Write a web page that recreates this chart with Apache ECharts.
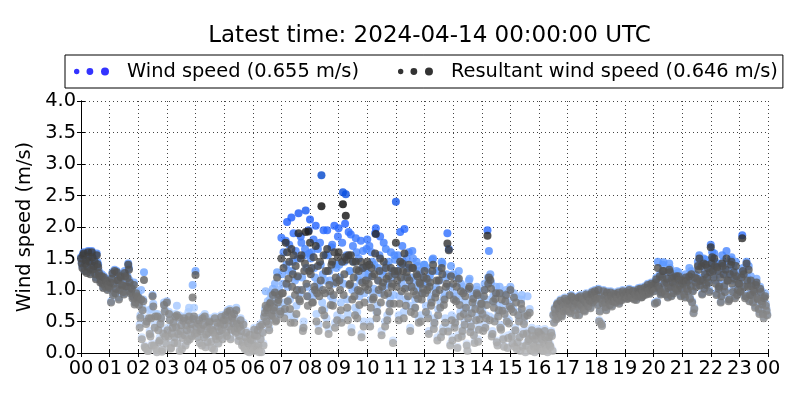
<!DOCTYPE html>
<html>
<head>
<meta charset="utf-8">
<script src="https://cdn.jsdelivr.net/npm/echarts@6/dist/echarts.min.js"></script>
<style>
  html, body { margin: 0; padding: 0; background: #fff; }
  #chart { width: 800px; height: 400px; }
</style>
</head>
<body>
<div id="chart"></div>
<script>
// two interleaved passes, each one sample every 3 minutes (20 per hour), 00:00 -> 23:59 UTC
var sampleStep = 0.05

var hourLabels = ['00', '01', '02', '03', '04', '05', '06', '07', '08', '09', '10', '11',
  '12', '13', '14', '15', '16', '17', '18', '19', '20', '21', '22', '23', '00']

// 风速 (m/s), pass A: hh:00, hh:03, ...
var windSpeed = [
  1.52, 1.38, 1.60, 1.45, 1.30, 1.62, 1.48, 1.35, 1.55, 1.42, 1.28, 1.58, 1.40, 1.25, 1.18, 1.12, 1.22, 1.08, 1.15, 1.10, // 00
  1.05, 0.82, 1.28, 1.12, 0.98, 1.30, 1.18, 1.02, 1.22, 1.10, 0.95, 1.25, 1.08, 1.42, 1.15, 1.00, 0.90, 1.12, 0.85, 0.95, // 01
  0.92, 0.45, 1.00, 0.72, 1.28, 0.10, 0.55, 0.05, 0.35, 0.70, 0.92, 0.15, 0.62, 0.02, 0.40, 0.25, 0.58, 0.08, 0.80, 0.30, // 02
  0.82, 0.30, 0.55, 0.12, 0.45, 0.20, 0.62, 0.75, 0.35, 0.05, 0.48, 0.28, 0.58, 0.15, 0.40, 0.65, 0.25, 0.50, 1.08, 0.72, // 03
  1.30, 0.35, 0.50, 0.20, 0.42, 0.58, 0.28, 0.12, 0.45, 0.35, 0.55, 0.22, 0.40, 0.08, 0.30, 0.52, 0.18, 0.38, 0.60, 0.25, // 04
  0.48, 0.62, 0.30, 0.55, 0.70, 0.40, 0.58, 0.65, 0.35, 0.50, 0.22, 0.45, 0.38, 0.20, 0.12, 0.28, 0.05, 0.18, 0.32, 0.10, // 05
  0.22, 0.40, 0.08, 0.30, 0.15, 0.45, 0.02, 0.35, 0.60, 0.98, 0.72, 0.50, 0.85, 0.62, 1.02, 0.78, 0.55, 1.28, 0.90, 0.68, // 06
  1.83, 1.10, 0.65, 1.78, 2.08, 1.30, 0.85, 2.15, 1.45, 0.55, 1.62, 1.20, 2.22, 0.95, 1.75, 0.40, 1.55, 2.26, 1.05, 1.95, // 07
  2.12, 1.60, 0.90, 1.35, 2.02, 1.10, 0.45, 1.75, 2.82, 1.25, 0.70, 1.55, 1.95, 0.38, 1.15, 1.68, 0.85, 2.02, 1.40, 0.60, // 08
  1.98, 1.20, 0.55, 2.55, 1.45, 2.52, 0.85, 1.92, 1.30, 0.40, 1.70, 1.05, 1.82, 0.65, 1.50, 1.15, 0.30, 1.62, 0.95, 1.35, // 09
  1.80, 1.25, 0.50, 1.60, 0.95, 1.40, 1.98, 0.75, 1.15, 1.85, 0.35, 1.30, 1.05, 1.65, 0.60, 1.45, 0.88, 1.20, 0.20, 1.55, // 10
  2.40, 1.30, 0.60, 1.92, 1.10, 1.45, 1.97, 0.85, 1.35, 1.60, 0.40, 1.20, 1.50, 0.72, 1.05, 1.38, 0.55, 1.25, 0.95, 1.15, // 11
  1.40, 0.75, 1.10, 0.35, 1.25, 0.90, 1.50, 0.55, 1.05, 0.25, 1.30, 0.80, 1.45, 0.40, 0.95, 1.20, 1.90, 1.65, 0.15, 0.60, // 12
  1.25, 0.45, 0.90, 0.10, 1.30, 0.65, 0.30, 1.05, 0.50, 0.80, 0.05, 1.15, 0.38, 0.70, 0.95, 0.20, 0.58, 1.00, 0.42, 0.75, // 13
  0.85, 0.40, 1.10, 0.60, 1.95, 1.62, 1.25, 0.30, 0.90, 0.55, 1.05, 0.15, 0.75, 0.45, 0.95, 0.25, 0.68, 1.00, 0.10, 0.52, // 14
  1.05, 0.30, 0.70, 0.12, 0.88, 0.20, 0.55, 0.05, 0.92, 0.35, 0.62, 0.15, 0.90, 0.25, 0.08, 0.40, 0.18, 0.02, 0.30, 0.10, // 15
  0.35, 0.10, 0.25, 0.05, 0.38, 0.15, 0.02, 0.28, 0.12, 0.30, 0.62, 0.72, 0.55, 0.80, 0.68, 0.85, 0.60, 0.75, 0.88, 0.70, // 16
  0.72, 0.85, 0.65, 0.90, 0.78, 0.70, 0.88, 0.82, 0.62, 0.92, 0.75, 0.86, 0.68, 0.95, 0.80, 0.90, 0.73, 0.98, 0.85, 1.00, // 17
  0.95, 0.78, 0.52, 0.88, 0.45, 1.00, 0.82, 0.70, 0.92, 0.85, 0.98, 0.76, 0.90, 0.84, 0.95, 0.88, 0.80, 0.93, 0.86, 0.97, // 18
  0.92, 0.98, 0.88, 1.02, 0.95, 0.90, 1.00, 0.94, 0.86, 0.99, 0.93, 1.04, 0.91, 0.97, 1.06, 0.95, 1.10, 0.98, 1.02, 1.08, // 19
  1.10, 0.80, 1.20, 1.45, 1.05, 0.95, 1.25, 1.44, 1.00, 1.15, 0.90, 1.42, 1.08, 1.22, 0.98, 1.12, 1.30, 1.02, 1.18, 0.92, // 20
  1.05, 1.20, 0.90, 1.15, 1.00, 1.35, 1.10, 0.82, 0.65, 1.25, 1.08, 1.45, 1.55, 1.18, 0.95, 1.50, 1.30, 1.12, 1.40, 1.00, // 21
  1.72, 1.60, 1.25, 1.45, 0.95, 1.38, 1.10, 0.82, 1.55, 1.30, 1.00, 1.62, 1.20, 0.88, 1.48, 1.15, 1.35, 0.90, 1.28, 1.05, // 22
  1.15, 1.00, 1.87, 1.30, 0.90, 1.45, 1.10, 0.85, 1.22, 0.95, 1.05, 0.75, 1.18, 0.88, 0.65, 1.00, 0.80, 0.58, 0.95, 0.70  // 23
]

// 风速 (m/s), pass B: hh:01.5, hh:04.5, ...
var windSpeedB = [
  1.45, 1.58, 1.32, 1.50, 1.40, 1.55, 1.28, 1.62, 1.36, 1.48, 1.20, 1.44, 1.30, 1.15, 1.25, 1.05, 1.12, 1.18, 1.02, 1.08, // 00
  1.15, 1.20, 0.95, 1.32, 1.05, 1.18, 0.88, 1.25, 1.10, 1.00, 1.30, 1.08, 1.22, 1.35, 0.98, 1.05, 0.92, 0.80, 0.98, 0.88, // 01
  0.80, 0.60, 0.25, 0.85, 0.12, 0.50, 0.05, 0.68, 0.30, 0.15, 0.78, 0.45, 0.08, 0.62, 0.20, 0.50, 0.03, 0.35, 0.70, 0.18, // 02
  0.40, 0.65, 0.10, 0.35, 0.52, 0.28, 0.45, 0.18, 0.60, 0.38, 0.08, 0.55, 0.32, 0.48, 0.22, 0.72, 0.42, 0.30, 0.58, 0.35, // 03
  0.45, 0.28, 0.55, 0.38, 0.15, 0.48, 0.62, 0.32, 0.20, 0.52, 0.42, 0.10, 0.35, 0.58, 0.25, 0.45, 0.30, 0.50, 0.40, 0.55, // 04
  0.55, 0.35, 0.68, 0.45, 0.25, 0.60, 0.50, 0.38, 0.72, 0.42, 0.30, 0.55, 0.15, 0.48, 0.08, 0.35, 0.22, 0.02, 0.25, 0.15, // 05
  0.05, 0.32, 0.12, 0.40, 0.02, 0.25, 0.48, 0.15, 0.70, 0.55, 0.82, 0.40, 0.95, 0.65, 0.75, 1.10, 0.58, 0.88, 1.00, 0.72, // 06
  1.25, 1.60, 0.80, 1.40, 1.05, 1.72, 0.60, 1.30, 1.90, 1.15, 0.75, 1.50, 1.00, 1.85, 1.20, 0.50, 1.65, 1.35, 0.90, 1.58, // 07
  1.50, 0.95, 1.80, 1.20, 0.62, 1.65, 1.05, 1.40, 0.80, 1.95, 1.15, 0.55, 1.55, 1.30, 0.90, 1.72, 1.10, 0.48, 1.35, 1.85, // 08
  1.40, 0.80, 1.75, 1.10, 2.05, 1.55, 0.62, 1.30, 1.88, 1.00, 1.45, 0.72, 1.60, 1.20, 0.90, 1.78, 1.35, 0.50, 1.25, 1.65, // 09
  1.20, 1.70, 0.85, 1.45, 1.02, 1.90, 0.65, 1.35, 1.55, 0.95, 1.25, 1.75, 0.50, 1.40, 1.10, 0.78, 1.60, 1.30, 0.92, 1.48, // 10
  1.25, 1.55, 0.90, 1.40, 1.70, 0.65, 1.20, 1.50, 1.05, 1.35, 0.75, 1.62, 1.15, 0.85, 1.45, 1.00, 1.30, 0.60, 1.10, 1.40, // 11
  1.10, 1.35, 0.62, 1.20, 0.85, 1.48, 0.45, 1.00, 1.30, 0.70, 1.15, 0.30, 1.42, 0.88, 0.55, 1.25, 0.40, 1.05, 1.38, 0.25, // 12
  0.95, 0.55, 1.20, 0.28, 0.85, 1.10, 0.40, 0.70, 1.00, 0.15, 0.62, 1.18, 0.48, 0.90, 0.32, 0.78, 1.05, 0.22, 0.60, 0.88, // 13
  0.70, 1.00, 0.45, 0.85, 1.20, 0.58, 1.12, 0.35, 0.80, 0.95, 0.20, 0.65, 1.05, 0.42, 0.75, 0.12, 0.90, 0.55, 0.28, 0.82, // 14
  0.75, 0.18, 0.95, 0.40, 0.08, 0.65, 0.28, 0.85, 0.12, 0.50, 0.02, 0.35, 0.22, 0.70, 0.05, 0.30, 0.12, 0.25, 0.08, 0.38, // 15
  0.20, 0.32, 0.05, 0.18, 0.28, 0.08, 0.22, 0.15, 0.35, 0.05, 0.50, 0.65, 0.78, 0.58, 0.72, 0.62, 0.82, 0.68, 0.78, 0.85, // 16
  0.80, 0.68, 0.92, 0.75, 0.85, 0.62, 0.80, 0.90, 0.72, 0.78, 0.88, 0.70, 0.82, 0.92, 0.76, 0.85, 0.95, 0.82, 0.92, 0.88, // 17
  0.88, 1.02, 0.68, 0.48, 0.80, 0.92, 0.75, 0.98, 0.86, 0.78, 0.92, 0.84, 0.96, 0.82, 0.90, 0.98, 0.85, 0.92, 1.00, 0.90, // 18
  0.95, 0.88, 0.92, 0.97, 0.90, 1.00, 0.87, 0.95, 0.92, 1.03, 0.96, 0.90, 1.00, 0.94, 0.98, 1.05, 1.00, 0.96, 1.12, 1.04, // 19
  1.00, 1.15, 0.82, 1.08, 1.25, 0.98, 1.40, 1.12, 0.95, 1.22, 1.05, 1.35, 0.92, 1.15, 1.25, 1.05, 1.00, 1.28, 1.10, 1.18, // 20
  1.12, 0.95, 1.25, 1.05, 1.18, 0.88, 1.30, 1.00, 0.72, 1.15, 1.22, 1.38, 1.10, 1.42, 1.20, 1.05, 1.48, 1.25, 1.15, 1.32, // 21
  1.48, 1.35, 1.58, 1.15, 1.42, 1.05, 1.25, 0.92, 1.45, 1.10, 1.38, 1.20, 0.85, 1.30, 1.52, 1.00, 1.22, 1.45, 0.95, 1.15, // 22
  1.00, 1.25, 1.35, 1.08, 0.92, 1.20, 1.38, 0.95, 1.10, 0.82, 1.00, 1.12, 0.90, 0.72, 1.05, 0.85, 0.65, 0.90, 0.78, 0.62  // 23
]

// 合成风速 (m/s), pass A
var resultantSpeed = [
  1.50, 1.35, 1.58, 1.42, 1.27, 1.60, 1.45, 1.32, 1.52, 1.38, 1.25, 1.55, 1.36, 1.22, 1.15, 1.10, 1.20, 1.05, 1.12, 1.07, // 00
  1.03, 0.80, 1.26, 1.10, 0.95, 1.28, 1.16, 1.00, 1.20, 1.08, 0.93, 1.22, 1.06, 1.40, 1.12, 0.97, 0.87, 1.08, 0.80, 0.90, // 01
  0.88, 0.40, 0.85, 0.68, 1.16, 0.08, 0.50, 0.03, 0.30, 0.55, 0.90, 0.12, 0.58, 0.01, 0.36, 0.20, 0.55, 0.05, 0.76, 0.26, // 02
  0.80, 0.26, 0.52, 0.08, 0.40, 0.16, 0.58, 0.60, 0.30, 0.03, 0.44, 0.24, 0.55, 0.12, 0.36, 0.52, 0.22, 0.46, 0.88, 0.58, // 03
  1.24, 0.32, 0.46, 0.16, 0.38, 0.55, 0.25, 0.09, 0.42, 0.32, 0.50, 0.18, 0.36, 0.05, 0.27, 0.48, 0.15, 0.35, 0.57, 0.22, // 04
  0.45, 0.60, 0.27, 0.52, 0.67, 0.37, 0.55, 0.62, 0.32, 0.47, 0.19, 0.42, 0.35, 0.17, 0.09, 0.25, 0.03, 0.15, 0.29, 0.07, // 05
  0.20, 0.37, 0.05, 0.27, 0.12, 0.42, 0.01, 0.32, 0.57, 0.75, 0.68, 0.46, 0.78, 0.58, 0.92, 0.72, 0.50, 1.20, 0.84, 0.62, // 06
  1.50, 0.95, 0.55, 1.75, 1.60, 1.18, 0.70, 1.65, 1.25, 0.48, 1.38, 1.00, 1.90, 0.82, 1.55, 0.35, 1.30, 1.92, 0.90, 1.93, // 07
  1.75, 1.35, 0.80, 1.05, 1.70, 0.95, 0.35, 1.45, 2.33, 1.00, 0.60, 1.30, 1.65, 0.30, 0.98, 1.40, 0.75, 1.60, 1.20, 0.52, // 08
  1.60, 1.00, 0.48, 2.36, 1.25, 2.18, 0.72, 1.55, 1.10, 0.33, 1.45, 0.90, 1.45, 0.55, 1.30, 0.98, 0.25, 1.35, 0.80, 1.15, // 09
  1.45, 1.10, 0.42, 1.35, 0.85, 1.25, 1.89, 0.65, 1.00, 1.50, 0.28, 1.12, 0.92, 1.35, 0.52, 1.22, 0.78, 1.05, 0.16, 1.30, // 10
  1.75, 1.15, 0.52, 1.45, 0.98, 1.30, 1.58, 0.75, 1.20, 1.40, 0.35, 1.05, 1.35, 0.62, 0.92, 1.22, 0.48, 1.10, 0.85, 1.02, // 11
  1.30, 0.65, 1.00, 0.30, 1.12, 0.80, 1.40, 0.48, 0.95, 0.20, 1.15, 0.72, 1.35, 0.34, 0.85, 1.05, 1.74, 1.63, 0.12, 0.52, // 12
  1.10, 0.40, 0.82, 0.08, 1.18, 0.58, 0.26, 0.95, 0.45, 0.72, 0.03, 1.02, 0.33, 0.63, 0.86, 0.16, 0.52, 0.92, 0.37, 0.68, // 13
  0.78, 0.35, 1.00, 0.55, 1.86, 1.20, 1.16, 0.26, 0.82, 0.50, 0.95, 0.12, 0.68, 0.40, 0.85, 0.22, 0.62, 0.92, 0.08, 0.47, // 14
  1.00, 0.26, 0.65, 0.10, 0.80, 0.17, 0.50, 0.03, 0.70, 0.30, 0.58, 0.12, 0.60, 0.22, 0.06, 0.36, 0.15, 0.01, 0.27, 0.08, // 15
  0.32, 0.08, 0.22, 0.03, 0.35, 0.12, 0.01, 0.25, 0.10, 0.27, 0.60, 0.70, 0.53, 0.78, 0.66, 0.83, 0.58, 0.73, 0.86, 0.68, // 16
  0.70, 0.83, 0.63, 0.88, 0.76, 0.68, 0.86, 0.80, 0.60, 0.90, 0.73, 0.84, 0.66, 0.93, 0.78, 0.88, 0.71, 0.96, 0.83, 0.98, // 17
  0.93, 0.76, 0.50, 0.86, 0.43, 0.98, 0.80, 0.68, 0.90, 0.83, 0.96, 0.74, 0.88, 0.82, 0.93, 0.86, 0.78, 0.91, 0.84, 0.95, // 18
  0.90, 0.96, 0.86, 1.00, 0.93, 0.88, 0.98, 0.92, 0.84, 0.97, 0.91, 1.02, 0.89, 0.95, 1.04, 0.93, 1.08, 0.96, 1.00, 1.06, // 19
  1.08, 0.78, 1.17, 1.35, 1.02, 0.93, 1.20, 1.30, 0.98, 1.12, 0.88, 1.32, 1.05, 1.18, 0.95, 1.10, 1.22, 1.00, 1.15, 0.90, // 20
  1.02, 1.15, 0.88, 1.12, 0.98, 1.22, 1.06, 0.80, 0.63, 1.20, 1.05, 1.38, 1.50, 1.14, 0.93, 1.42, 1.25, 1.08, 1.35, 0.97, // 21
  1.68, 1.52, 1.20, 1.38, 0.92, 1.30, 1.05, 0.80, 1.42, 1.25, 0.97, 1.50, 1.15, 0.85, 1.40, 1.10, 1.28, 0.87, 1.22, 1.00, // 22
  1.10, 0.98, 1.82, 1.25, 0.87, 1.42, 1.05, 0.82, 1.15, 0.92, 1.00, 0.72, 1.12, 0.85, 0.62, 0.97, 0.77, 0.55, 0.90, 0.67  // 23
]

// 合成风速 (m/s), pass B
var resultantSpeedB = [
  1.42, 1.55, 1.30, 1.47, 1.37, 1.52, 1.25, 1.60, 1.33, 1.45, 1.17, 1.41, 1.27, 1.12, 1.22, 1.03, 1.10, 1.15, 1.00, 1.05, // 00
  1.12, 1.18, 0.92, 1.30, 1.02, 1.15, 0.85, 1.22, 1.07, 0.97, 1.27, 1.05, 1.19, 1.32, 0.95, 1.02, 0.89, 0.77, 0.95, 0.85, // 01
  0.76, 0.56, 0.22, 0.82, 0.10, 0.46, 0.03, 0.55, 0.26, 0.12, 0.74, 0.40, 0.06, 0.58, 0.17, 0.46, 0.02, 0.31, 0.66, 0.15, // 02
  0.36, 0.62, 0.07, 0.31, 0.48, 0.25, 0.41, 0.15, 0.56, 0.34, 0.06, 0.51, 0.28, 0.44, 0.19, 0.58, 0.38, 0.27, 0.54, 0.31, // 03
  0.42, 0.25, 0.52, 0.35, 0.12, 0.45, 0.58, 0.29, 0.17, 0.48, 0.38, 0.08, 0.32, 0.55, 0.22, 0.42, 0.27, 0.47, 0.37, 0.52, // 04
  0.52, 0.32, 0.65, 0.42, 0.22, 0.57, 0.47, 0.35, 0.68, 0.39, 0.27, 0.52, 0.12, 0.45, 0.06, 0.32, 0.19, 0.01, 0.22, 0.12, // 05
  0.03, 0.28, 0.10, 0.36, 0.01, 0.22, 0.45, 0.12, 0.64, 0.50, 0.72, 0.36, 0.80, 0.60, 0.68, 0.96, 0.52, 0.80, 0.92, 0.66, // 06
  0.95, 1.35, 0.70, 1.10, 0.82, 1.45, 0.48, 1.05, 1.55, 0.92, 0.62, 1.22, 0.85, 1.50, 1.00, 0.40, 1.42, 1.10, 0.75, 1.30, // 07
  1.25, 0.80, 1.52, 1.00, 0.50, 1.38, 0.90, 1.15, 0.68, 1.55, 0.95, 0.45, 1.30, 1.08, 0.76, 1.45, 0.92, 0.40, 1.12, 1.52, // 08
  1.15, 0.68, 1.45, 0.92, 1.52, 1.48, 0.52, 1.08, 1.55, 0.85, 1.20, 0.60, 1.32, 1.00, 0.76, 1.45, 1.12, 0.42, 1.05, 1.38, // 09
  1.00, 1.40, 0.72, 1.22, 0.88, 1.58, 0.55, 1.15, 1.30, 0.80, 1.05, 1.45, 0.42, 1.18, 0.95, 0.66, 1.35, 1.10, 0.78, 1.25, // 10
  1.05, 1.30, 0.78, 1.20, 1.42, 0.55, 1.02, 1.28, 0.90, 1.15, 0.65, 1.35, 0.98, 0.72, 1.25, 0.86, 1.12, 0.50, 0.95, 1.20, // 11
  0.95, 1.18, 0.55, 1.05, 0.75, 1.30, 0.38, 0.88, 1.15, 0.60, 1.00, 0.25, 1.25, 0.76, 0.48, 1.10, 0.34, 0.92, 1.22, 0.20, // 12
  0.85, 0.48, 1.05, 0.24, 0.76, 0.98, 0.35, 0.62, 0.90, 0.12, 0.55, 1.05, 0.42, 0.80, 0.28, 0.70, 0.95, 0.18, 0.53, 0.78, // 13
  0.62, 0.90, 0.40, 0.76, 1.10, 0.52, 1.02, 0.30, 0.72, 0.86, 0.17, 0.58, 0.95, 0.37, 0.67, 0.10, 0.82, 0.50, 0.24, 0.74, // 14
  0.70, 0.15, 0.88, 0.36, 0.06, 0.60, 0.25, 0.78, 0.10, 0.46, 0.01, 0.31, 0.19, 0.64, 0.03, 0.27, 0.10, 0.22, 0.06, 0.34, // 15
  0.17, 0.29, 0.03, 0.15, 0.25, 0.06, 0.19, 0.12, 0.32, 0.03, 0.48, 0.63, 0.76, 0.56, 0.70, 0.60, 0.80, 0.66, 0.76, 0.83, // 16
  0.78, 0.66, 0.90, 0.73, 0.83, 0.60, 0.78, 0.88, 0.70, 0.76, 0.86, 0.68, 0.80, 0.90, 0.74, 0.83, 0.93, 0.80, 0.90, 0.86, // 17
  0.86, 1.00, 0.66, 0.46, 0.78, 0.90, 0.73, 0.96, 0.84, 0.76, 0.90, 0.82, 0.94, 0.80, 0.88, 0.96, 0.83, 0.90, 0.98, 0.88, // 18
  0.93, 0.86, 0.90, 0.95, 0.88, 0.98, 0.85, 0.93, 0.90, 1.01, 0.94, 0.88, 0.98, 0.92, 0.96, 1.03, 0.98, 0.94, 1.10, 1.02, // 19
  0.98, 1.12, 0.80, 1.05, 1.22, 0.96, 1.30, 1.10, 0.93, 1.18, 1.03, 1.28, 0.90, 1.12, 1.20, 1.02, 0.98, 1.22, 1.07, 1.15, // 20
  1.10, 0.93, 1.20, 1.02, 1.15, 0.86, 1.25, 0.98, 0.70, 1.12, 1.18, 1.32, 1.07, 1.38, 1.16, 1.02, 1.40, 1.20, 1.12, 1.28, // 21
  1.42, 1.30, 1.50, 1.10, 1.36, 1.02, 1.20, 0.90, 1.38, 1.06, 1.32, 1.15, 0.82, 1.25, 1.45, 0.97, 1.18, 1.38, 0.92, 1.10, // 22
  0.97, 1.20, 1.30, 1.05, 0.90, 1.15, 1.32, 0.92, 1.06, 0.80, 0.97, 1.08, 0.87, 0.70, 1.02, 0.82, 0.62, 0.87, 0.75, 0.60  // 23
]

var windName = 'Wind speed (0.655 m/s)'
var resultantName = 'Resultant wind speed (0.646 m/s)'

var font = 'DejaVu Sans'
// 图例里的三个点
var dotsIcon = 'path://M0,4a2.7,2.7 0 1,0 5.4,0a2.7,2.7 0 1,0 -5.4,0Z' +
  'M12.5,4a3.4,3.4 0 1,0 6.8,0a3.4,3.4 0 1,0 -6.8,0Z' +
  'M27,4a4,4 0 1,0 8,0a4,4 0 1,0 -8,0Z'

// pass A sits on the 3-minute marks, pass B half a step later
var toPoints = function (passA, passB) {
  var pts = []
  for (var i = 0; i < passA.length; i++) {
    pts.push([i * sampleStep, passA[i]])
    pts.push([(i + 0.5) * sampleStep, passB[i]])
  }
  return pts
}

var gridLine = { show: true, lineStyle: { color: '#444', width: 1, type: [1, 3] } }
var frame = { show: true, lineStyle: { color: '#000', width: 1 } }
var tick = { show: true, inside: true, length: 4, lineStyle: { color: '#000' } }

var option = {
  backgroundColor: '#fff',
  animation: false,
  title: {
    text: 'Latest time: 2024-04-14 00:00:00 UTC',
    left: 424.5,
    top: 20,
    textAlign: 'center',
    textStyle: { fontFamily: font, fontSize: 23, fontWeight: 'normal', color: '#000' }
  },
  legend: {
    left: 65,
    top: 55,
    padding: [5, 5, 5, 9],
    itemGap: 39,
    itemWidth: 35,
    itemHeight: 8,
    borderColor: '#000',
    borderWidth: 1,
    icon: dotsIcon,
    textStyle: { fontFamily: font, fontSize: 19.4, color: '#000', padding: [0, 0, 0, 13], lineHeight: 23 },
    data: [
      { name: windName, itemStyle: { color: '#0000ff' } },
      { name: resultantName, itemStyle: { color: '#000000' } }
    ]
  },
  grid: { left: 81, right: 32, top: 101, bottom: 47 },
  xAxis: [
    {
      type: 'value', min: 0, max: 24, interval: 1,
      axisLine: frame, axisTick: tick, splitLine: gridLine,
      axisLabel: {
        fontFamily: font, fontSize: 19.4, color: '#000', margin: 6,
        formatter: function (v) { return hourLabels[Math.round(v)] }
      }
    },
    {
      type: 'value', min: 0, max: 24, interval: 1, position: 'top',
      axisLine: frame, axisTick: tick, splitLine: { show: false }, axisLabel: { show: false }
    }
  ],
  yAxis: [
    {
      type: 'value', min: 0, max: 4, interval: 0.5,
      name: 'Wind speed (m/s)', nameLocation: 'middle', nameGap: 31,
      nameTextStyle: { fontFamily: font, fontSize: 19.4, color: '#000' },
      axisLine: frame, axisTick: tick, splitLine: gridLine,
      axisLabel: {
        fontFamily: font, fontSize: 19.4, color: '#000', margin: 5,
        formatter: function (v) { return v.toFixed(1) }
      }
    },
    {
      type: 'value', min: 0, max: 4, interval: 0.5, position: 'right',
      axisLine: frame, axisTick: tick, splitLine: { show: false }, axisLabel: { show: false }
    }
  ],
  visualMap: [
    {
      show: false, seriesIndex: 0, dimension: 1, min: 0, max: 2.8,
      inRange: { color: ['#e0ebff', '#a9cbff', '#5c98ff', '#1a5cff', '#0046cc'] }
    },
    {
      show: false, seriesIndex: 1, dimension: 1, min: 0, max: 2.4,
      inRange: { color: ['#b4b4b4', '#000000'] }
    }
  ],
  series: [
    {
      name: windName,
      type: 'scatter',
      symbolSize: 8,
      itemStyle: { color: '#0000ff' },
      data: toPoints(windSpeed, windSpeedB)
    },
    {
      name: resultantName,
      type: 'scatter',
      symbolSize: 8,
      itemStyle: { color: '#000000' },
      data: toPoints(resultantSpeed, resultantSpeedB)
    }
  ]
}

var chart = echarts.init(document.getElementById('chart'), null, { renderer: 'canvas' })
chart.setOption(option)
</script>
</body>
</html>
